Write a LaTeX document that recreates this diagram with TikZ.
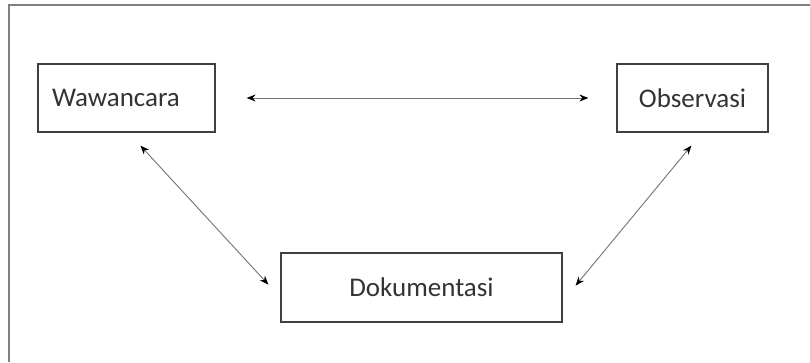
\documentclass[tikz,border=0pt]{standalone}
\usepackage{fontspec}
\setmainfont{Carlito}
\usetikzlibrary{arrows.meta}
\begin{document}
\begin{tikzpicture}[x=1pt,y=-1pt,
  box/.style={draw=black!75, line width=1.2pt, minimum height=68pt, inner sep=0pt,
    font=\fontsize{27}{32}\selectfont, text=black!80},
  tip/.style={Stealth[length=9pt,width=7pt,black]},
  link/.style={draw=black!55, line width=0.9pt, {Stealth[length=9pt,width=7pt,black]}-{Stealth[length=9pt,width=7pt,black]}},
  frameline/.style={draw=black!50, line width=2pt}]
  \useasboundingbox (0,0) rectangle (810,362);
  % open frame: top and left edges only
  \draw[frameline] (9,362) -- (9,5) -- (810,5);

  \node[box, minimum width=177pt, text width=149pt, align=left] (waw) at (126.5,98) {Wawancara};
  \node[box, minimum width=151pt] (obs) at (692.5,98) {Observasi};
  \node[box, minimum width=281pt, minimum height=69pt] (dok) at (421.5,287.5) {Dokumentasi};

  % connector end points, offset from the box corners
  \coordinate (w1) at ([shift={(103,13)}]waw.south west);
  \coordinate (d1) at ([shift={(-12,-38)}]dok.south west);
  \coordinate (o1) at ([shift={(75,13)}]obs.south west);
  \coordinate (d2) at ([shift={(13,-37)}]dok.south east);

  \draw[link, shorten <=31pt, shorten >=28pt] (waw.east) -- (obs.west);
  \draw[link] (w1) -- (d1);
  \draw[link] (o1) -- (d2);
\end{tikzpicture}
\end{document}
